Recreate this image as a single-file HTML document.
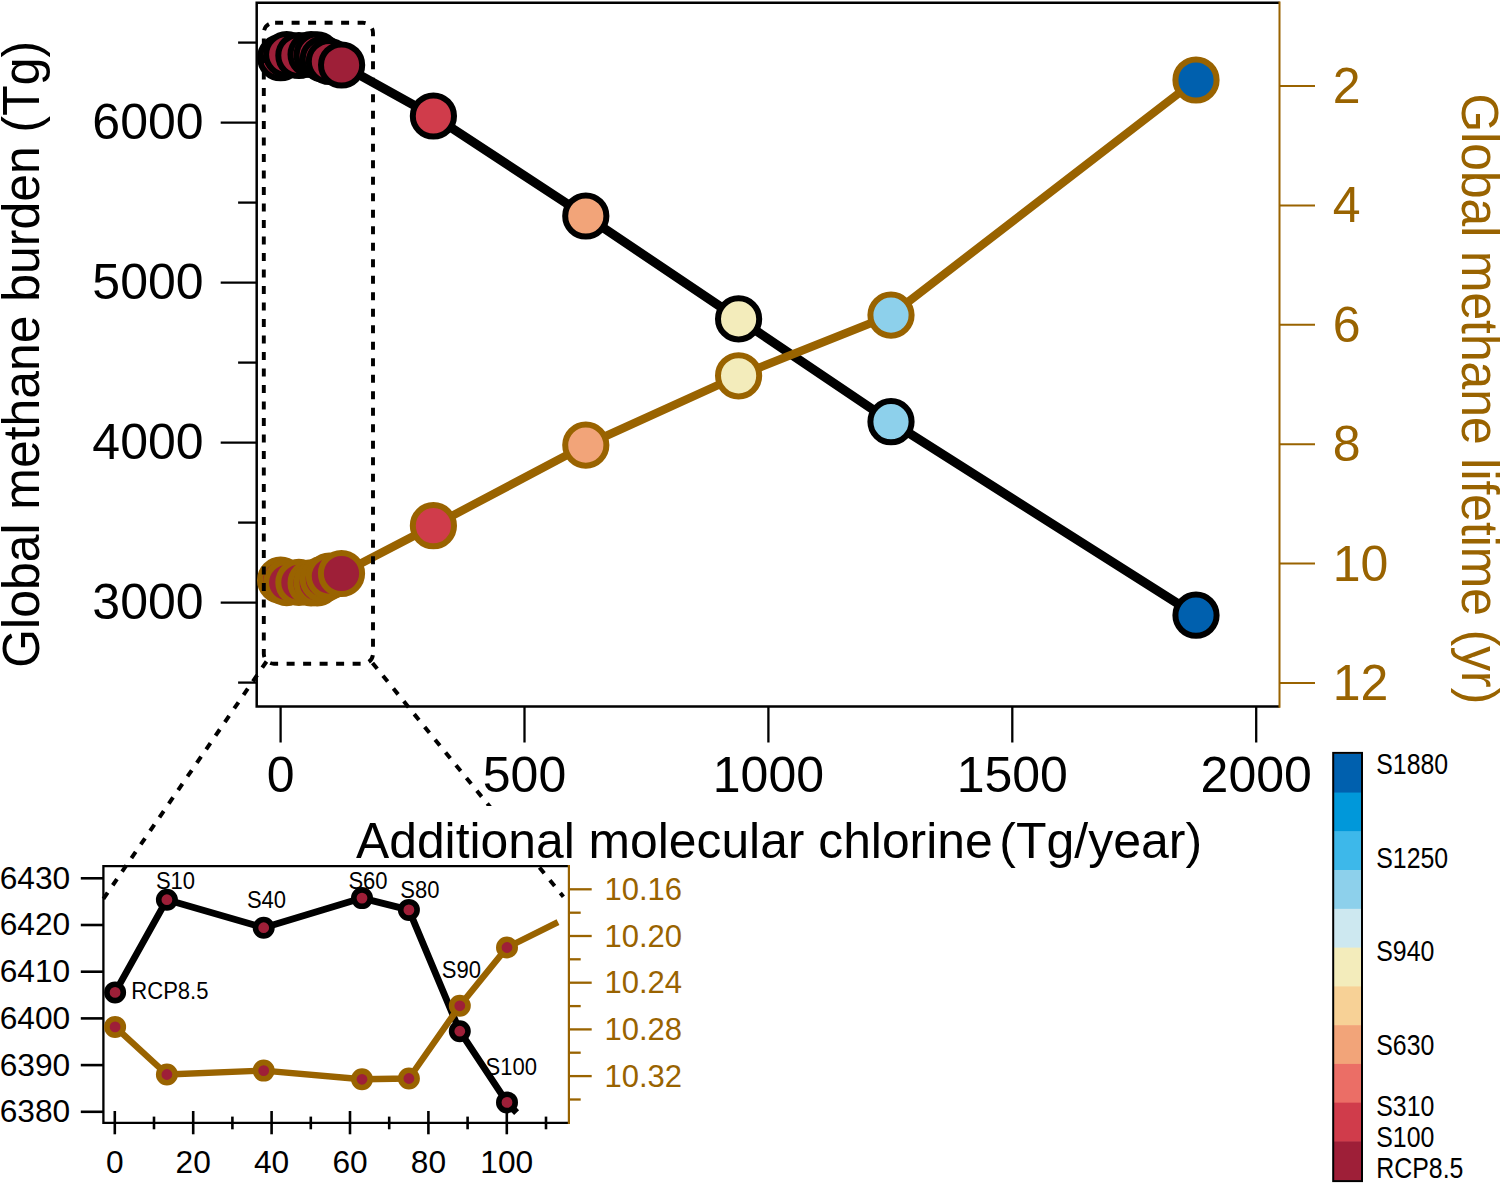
<!DOCTYPE html>
<html lang="en"><head><meta charset="utf-8"><title>Global methane burden and lifetime</title>
<style>html,body{margin:0;padding:0;background:#fff}svg{display:block}text{font-family:"Liberation Sans",Arial,sans-serif}</style>
</head><body>
<svg width="1500" height="1184" viewBox="0 0 1500 1184">
<rect width="1500" height="1184" fill="#fff"/>
<path d="M1279.5 2.8H256.7V706.5H1279.5" fill="none" stroke="#000" stroke-width="2.5"/>
<path d="M1279.5 1.6V707.7" stroke="#996300" stroke-width="2" fill="none"/>
<g stroke="#000" stroke-width="2.3">
<line x1="220.7" x2="256.7" y1="602.6" y2="602.6"/>
<line x1="220.7" x2="256.7" y1="442.6" y2="442.6"/>
<line x1="220.7" x2="256.7" y1="282.6" y2="282.6"/>
<line x1="220.7" x2="256.7" y1="122.6" y2="122.6"/>
<line x1="238.1" x2="256.7" y1="682.6" y2="682.6"/>
<line x1="238.1" x2="256.7" y1="522.6" y2="522.6"/>
<line x1="238.1" x2="256.7" y1="362.6" y2="362.6"/>
<line x1="238.1" x2="256.7" y1="202.6" y2="202.6"/>
<line x1="238.1" x2="256.7" y1="42.6" y2="42.6"/>
<line x1="280.6" x2="280.6" y1="706.5" y2="742.5"/>
<line x1="524.5" x2="524.5" y1="706.5" y2="742.5"/>
<line x1="768.4" x2="768.4" y1="706.5" y2="742.5"/>
<line x1="1012.3" x2="1012.3" y1="706.5" y2="742.5"/>
<line x1="1256.2" x2="1256.2" y1="706.5" y2="742.5"/>
</g>
<g stroke="#996300" stroke-width="2">
<line x1="1279.5" x2="1315" y1="86.0" y2="86.0"/>
<line x1="1279.5" x2="1315" y1="205.4" y2="205.4"/>
<line x1="1279.5" x2="1315" y1="324.8" y2="324.8"/>
<line x1="1279.5" x2="1315" y1="444.2" y2="444.2"/>
<line x1="1279.5" x2="1315" y1="563.6" y2="563.6"/>
<line x1="1279.5" x2="1315" y1="683.0" y2="683.0"/>
</g>
<text transform="translate(203.6 619.2)" font-size="50" fill="#000" text-anchor="end">3000</text>
<text transform="translate(203.6 459.2)" font-size="50" fill="#000" text-anchor="end">4000</text>
<text transform="translate(203.6 299.2)" font-size="50" fill="#000" text-anchor="end">5000</text>
<text transform="translate(203.6 139.2)" font-size="50" fill="#000" text-anchor="end">6000</text>
<text transform="translate(280.6 792.4)" font-size="50" fill="#000" text-anchor="middle">0</text>
<text transform="translate(524.5 792.4)" font-size="50" fill="#000" text-anchor="middle">500</text>
<text transform="translate(768.4 792.4)" font-size="50" fill="#000" text-anchor="middle">1000</text>
<text transform="translate(1012.3 792.4)" font-size="50" fill="#000" text-anchor="middle">1500</text>
<text transform="translate(1256.2 792.4)" font-size="50" fill="#000" text-anchor="middle">2000</text>
<text transform="translate(1332.7 102.9)" font-size="50" fill="#996300">2</text>
<text transform="translate(1332.7 222.3)" font-size="50" fill="#996300">4</text>
<text transform="translate(1332.7 341.7)" font-size="50" fill="#996300">6</text>
<text transform="translate(1332.7 461.1)" font-size="50" fill="#996300">8</text>
<text transform="translate(1332.7 580.5)" font-size="50" fill="#996300">10</text>
<text transform="translate(1332.7 699.9)" font-size="50" fill="#996300">12</text>
<text transform="translate(39.0 667.7) rotate(-90) scale(0.9785 1)" font-size="51" fill="#000">Global methane burden (Tg)</text>
<text transform="translate(1461.8 93.5) rotate(90) scale(0.9752 1)" font-size="51" fill="#996300">Global methane lifetime (yr)</text>
<g fill="none" stroke="#000" stroke-width="4" stroke-dasharray="7.5 9">
<path d="M266.5 661.5L102.6 900"/>
<path d="M372.5 663L563.4 896.8"/>
</g>
<rect x="340" y="806" width="880" height="57" fill="#fff"/>
<text transform="translate(356.0 857.5)" font-size="49.8" fill="#000">Additional molecular chlorine</text>
<text transform="translate(999.3 857.5)" font-size="50" fill="#000">(Tg/year)</text>
<polyline points="280.6,57.7 286.7,54.6 298.9,55.5 311.1,54.5 317.2,54.9 323.3,59.0 329.4,61.5 341.6,65.0 433.4,116.0 585.8,216.0 738.6,318.9 891.0,421.7 1196.0,615.2" fill="none" stroke="#000" stroke-width="9.2" stroke-linejoin="round"/>
<g stroke="#000" stroke-width="6">
<circle cx="280.6" cy="57.7" r="20.6" fill="#9E1F38"/>
<circle cx="286.7" cy="54.6" r="20.6" fill="#9E1F38"/>
<circle cx="298.9" cy="55.5" r="20.6" fill="#9E1F38"/>
<circle cx="311.1" cy="54.5" r="20.6" fill="#9E1F38"/>
<circle cx="317.2" cy="54.9" r="20.6" fill="#9E1F38"/>
<circle cx="323.3" cy="59.0" r="20.6" fill="#9E1F38"/>
<circle cx="329.4" cy="61.5" r="20.6" fill="#9E1F38"/>
<circle cx="341.6" cy="65.0" r="20.6" fill="#9E1F38"/>
<circle cx="433.4" cy="116.0" r="20.6" fill="#D03C4B"/>
<circle cx="585.8" cy="216.0" r="20.6" fill="#F2A479"/>
<circle cx="738.6" cy="318.9" r="20.6" fill="#F3ECBB"/>
<circle cx="891.0" cy="421.7" r="20.6" fill="#8DD0EB"/>
<circle cx="1196.0" cy="615.2" r="20.6" fill="#0060AE"/>
</g>
<polyline points="280.6,580.2 286.7,582.6 298.9,582.4 311.1,582.9 317.2,582.8 323.3,579.1 329.4,576.1 341.5,573.5 433.4,525.7 585.8,445.1 738.6,375.8 891.0,315.1 1196.0,80.0" fill="none" stroke="#996300" stroke-width="8.3" stroke-linejoin="round"/>
<g stroke="#996300" stroke-width="6">
<circle cx="280.6" cy="580.2" r="20.6" fill="#9E1F38"/>
<circle cx="286.7" cy="582.6" r="20.6" fill="#9E1F38"/>
<circle cx="298.9" cy="582.4" r="20.6" fill="#9E1F38"/>
<circle cx="311.1" cy="582.9" r="20.6" fill="#9E1F38"/>
<circle cx="317.2" cy="582.8" r="20.6" fill="#9E1F38"/>
<circle cx="323.3" cy="579.1" r="20.6" fill="#9E1F38"/>
<circle cx="329.4" cy="576.1" r="20.6" fill="#9E1F38"/>
<circle cx="341.5" cy="573.5" r="20.6" fill="#9E1F38"/>
<circle cx="433.4" cy="525.7" r="20.6" fill="#D03C4B"/>
<circle cx="585.8" cy="445.1" r="20.6" fill="#F2A479"/>
<circle cx="738.6" cy="375.8" r="20.6" fill="#F3ECBB"/>
<circle cx="891.0" cy="315.1" r="20.6" fill="#8DD0EB"/>
<circle cx="1196.0" cy="80.0" r="20.6" fill="#0060AE"/>
</g>
<rect x="263.8" y="22.7" width="109.2" height="641" rx="10" ry="10" fill="none" stroke="#000" stroke-width="3.9" stroke-dasharray="8 8.5" stroke-dashoffset="-1.3"/>
<path d="M568.9 866.1H103.4V1122.8H568.9" fill="none" stroke="#000" stroke-width="2.3"/>
<path d="M568.9 865.0V1123.9" fill="none" stroke="#996300" stroke-width="2.2"/>
<g stroke="#000" stroke-width="2.6">
<line x1="80.8" x2="103.4" y1="1111.8" y2="1111.8"/>
<line x1="80.8" x2="103.4" y1="1065.1" y2="1065.1"/>
<line x1="80.8" x2="103.4" y1="1018.4" y2="1018.4"/>
<line x1="80.8" x2="103.4" y1="971.7" y2="971.7"/>
<line x1="80.8" x2="103.4" y1="925.0" y2="925.0"/>
<line x1="80.8" x2="103.4" y1="878.3" y2="878.3"/>
<line x1="114.8" x2="114.8" y1="1111" y2="1134.3"/>
<line x1="193.2" x2="193.2" y1="1111" y2="1134.3"/>
<line x1="271.6" x2="271.6" y1="1111" y2="1134.3"/>
<line x1="350.0" x2="350.0" y1="1111" y2="1134.3"/>
<line x1="428.4" x2="428.4" y1="1111" y2="1134.3"/>
<line x1="506.8" x2="506.8" y1="1111" y2="1134.3"/>
<line x1="154.0" x2="154.0" y1="1116.6" y2="1129.3"/>
<line x1="232.4" x2="232.4" y1="1116.6" y2="1129.3"/>
<line x1="310.8" x2="310.8" y1="1116.6" y2="1129.3"/>
<line x1="389.2" x2="389.2" y1="1116.6" y2="1129.3"/>
<line x1="467.6" x2="467.6" y1="1116.6" y2="1129.3"/>
<line x1="546.0" x2="546.0" y1="1116.6" y2="1129.3"/>
</g>
<g stroke="#996300" stroke-width="2.3">
<line x1="568.9" x2="591.7" y1="889.3" y2="889.3"/>
<line x1="568.9" x2="591.7" y1="936.0" y2="936.0"/>
<line x1="568.9" x2="591.7" y1="982.7" y2="982.7"/>
<line x1="568.9" x2="591.7" y1="1029.4" y2="1029.4"/>
<line x1="568.9" x2="591.7" y1="1076.1" y2="1076.1"/>
<line x1="568.9" x2="580.7" y1="912.7" y2="912.7"/>
<line x1="568.9" x2="580.7" y1="959.3" y2="959.3"/>
<line x1="568.9" x2="580.7" y1="1006.1" y2="1006.1"/>
<line x1="568.9" x2="580.7" y1="1052.7" y2="1052.7"/>
<line x1="568.9" x2="580.7" y1="1099.5" y2="1099.5"/>
</g>
<text transform="translate(70.2 1122.2)" font-size="31.7" fill="#000" text-anchor="end">6380</text>
<text transform="translate(70.2 1075.5)" font-size="31.7" fill="#000" text-anchor="end">6390</text>
<text transform="translate(70.2 1028.8)" font-size="31.7" fill="#000" text-anchor="end">6400</text>
<text transform="translate(70.2 982.1)" font-size="31.7" fill="#000" text-anchor="end">6410</text>
<text transform="translate(70.2 935.4)" font-size="31.7" fill="#000" text-anchor="end">6420</text>
<text transform="translate(70.2 888.7)" font-size="31.7" fill="#000" text-anchor="end">6430</text>
<text transform="translate(114.8 1173.0)" font-size="31.7" fill="#000" text-anchor="middle">0</text>
<text transform="translate(193.2 1173.0)" font-size="31.7" fill="#000" text-anchor="middle">20</text>
<text transform="translate(271.6 1173.0)" font-size="31.7" fill="#000" text-anchor="middle">40</text>
<text transform="translate(350.0 1173.0)" font-size="31.7" fill="#000" text-anchor="middle">60</text>
<text transform="translate(428.4 1173.0)" font-size="31.7" fill="#000" text-anchor="middle">80</text>
<text transform="translate(506.8 1173.0)" font-size="31.7" fill="#000" text-anchor="middle">100</text>
<text transform="translate(604.5 899.8)" font-size="31" fill="#996300">10.16</text>
<text transform="translate(604.5 946.5)" font-size="31" fill="#996300">10.20</text>
<text transform="translate(604.5 993.2)" font-size="31" fill="#996300">10.24</text>
<text transform="translate(604.5 1039.9)" font-size="31" fill="#996300">10.28</text>
<text transform="translate(604.5 1086.6)" font-size="31" fill="#996300">10.32</text>
<text transform="translate(131.3 998.8) scale(0.9 1)" font-size="24.5" fill="#000">RCP8.5</text>
<text transform="translate(155.9 889.0) scale(0.9 1)" font-size="24.5" fill="#000">S10</text>
<text transform="translate(246.9 907.8) scale(0.9 1)" font-size="24.5" fill="#000">S40</text>
<text transform="translate(348.4 889.2) scale(0.9 1)" font-size="24.5" fill="#000">S60</text>
<text transform="translate(400.3 897.6) scale(0.9 1)" font-size="24.5" fill="#000">S80</text>
<text transform="translate(441.8 978.0) scale(0.9 1)" font-size="24.5" fill="#000">S90</text>
<text transform="translate(485.6 1075.1) scale(0.9 1)" font-size="24.5" fill="#000">S100</text>
<polyline points="115.1,992.4 166.9,899.7 263.7,927.7 362.0,898.1 408.9,909.9 459.8,1031.2 507.0,1102.4 516.6,1112.6" fill="none" stroke="#000" stroke-width="6.8" stroke-linejoin="round"/>
<g stroke="#000" stroke-width="5.6">
<circle cx="115.1" cy="992.4" r="8.2" fill="#9E1F38"/>
<circle cx="166.9" cy="899.7" r="8.2" fill="#9E1F38"/>
<circle cx="263.7" cy="927.7" r="8.2" fill="#9E1F38"/>
<circle cx="362.0" cy="898.1" r="8.2" fill="#9E1F38"/>
<circle cx="408.9" cy="909.9" r="8.2" fill="#9E1F38"/>
<circle cx="459.8" cy="1031.2" r="8.2" fill="#9E1F38"/>
<circle cx="507.0" cy="1102.4" r="8.2" fill="#9E1F38"/>
</g>
<polyline points="115.1,1026.9 166.9,1074.5 263.7,1070.6 362.0,1079.3 408.9,1078.5 459.8,1005.8 507.0,947.5 558.0,922.1" fill="none" stroke="#996300" stroke-width="6.4" stroke-linejoin="round"/>
<g stroke="#996300" stroke-width="5.6">
<circle cx="115.1" cy="1026.9" r="8.2" fill="#9E1F38"/>
<circle cx="166.9" cy="1074.5" r="8.2" fill="#9E1F38"/>
<circle cx="263.7" cy="1070.6" r="8.2" fill="#9E1F38"/>
<circle cx="362.0" cy="1079.3" r="8.2" fill="#9E1F38"/>
<circle cx="408.9" cy="1078.5" r="8.2" fill="#9E1F38"/>
<circle cx="459.8" cy="1005.8" r="8.2" fill="#9E1F38"/>
<circle cx="507.0" cy="947.5" r="8.2" fill="#9E1F38"/>
</g>
<rect x="1333.2" y="753.80" width="28.8" height="39.26" fill="#0060AE"/>
<rect x="1333.2" y="792.56" width="28.8" height="39.26" fill="#0098DA"/>
<rect x="1333.2" y="831.33" width="28.8" height="39.26" fill="#3DB8EA"/>
<rect x="1333.2" y="870.09" width="28.8" height="39.26" fill="#8DD0EB"/>
<rect x="1333.2" y="908.85" width="28.8" height="39.26" fill="#CDE8F0"/>
<rect x="1333.2" y="947.62" width="28.8" height="39.26" fill="#F3ECBB"/>
<rect x="1333.2" y="986.38" width="28.8" height="39.26" fill="#F7D196"/>
<rect x="1333.2" y="1025.15" width="28.8" height="39.26" fill="#F2A479"/>
<rect x="1333.2" y="1063.91" width="28.8" height="39.26" fill="#EB6E66"/>
<rect x="1333.2" y="1102.67" width="28.8" height="39.26" fill="#D03C4B"/>
<rect x="1333.2" y="1141.44" width="28.8" height="39.26" fill="#9E1F38"/>
<rect x="1333.2" y="752.9" width="28.8" height="428.2" fill="none" stroke="#000" stroke-width="2"/>
<text transform="translate(1376.2 774.0) scale(0.838 1)" font-size="29.7" fill="#000">S1880</text>
<text transform="translate(1376.2 867.6) scale(0.838 1)" font-size="29.7" fill="#000">S1250</text>
<text transform="translate(1376.2 961.2) scale(0.838 1)" font-size="29.7" fill="#000">S940</text>
<text transform="translate(1376.2 1054.6) scale(0.838 1)" font-size="29.7" fill="#000">S630</text>
<text transform="translate(1376.2 1115.7) scale(0.838 1)" font-size="29.7" fill="#000">S310</text>
<text transform="translate(1376.2 1146.8) scale(0.838 1)" font-size="29.7" fill="#000">S100</text>
<text transform="translate(1376.3 1177.8) scale(0.838 1)" font-size="29.7" fill="#000">RCP8.5</text>
</svg>
</body></html>
